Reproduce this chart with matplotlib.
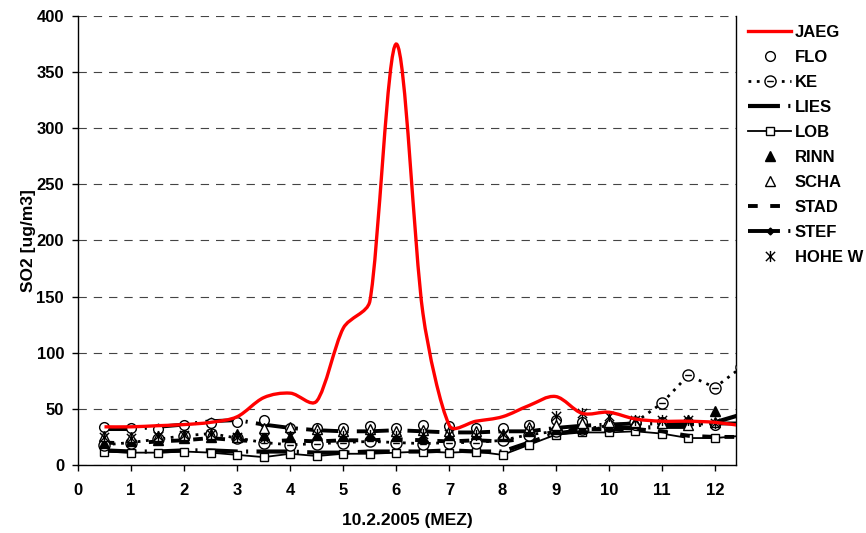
import numpy as np
import matplotlib
matplotlib.use("Agg")
import matplotlib.pyplot as plt
from matplotlib.path import Path
from matplotlib.patches import PathPatch

plt.rcParams["font.family"] = ["Liberation Sans", "DejaVu Sans"]
plt.rcParams["font.weight"] = "bold"
plt.rcParams["lines.scale_dashes"] = False

# ── Data (half-hourly, 10.2.2005) ─────────────────────────────────────────────
hours = [0.5, 1, 1.5, 2, 2.5, 3, 3.5, 4, 4.5, 5, 5.5, 6, 6.5, 7, 7.5, 8, 8.5,
         9, 9.5, 10, 10.5, 11, 11.5, 12, 12.5]

jaeg = [34, 34, 35, 36, 38, 43, 60, 64, 57, 122, 146, 375, 135, 35, 39, 43,
        53, 61, 46, 47, 41, 39, 39, 38, 35]
flo  = [34, 33, 32, 36, 37, 38, 40, 33, 33, 33, 35, 33, 36, 35, 33, 33, 36,
        40, 38, 36, 36, 38, 38, 36, None]
ke   = [18, 20, 23, 26, 28, 24, 20, 18, 19, 20, 21, 20, 19, 20, 20, 22, 27,
        30, 32, 35, 38, 55, 80, 69, 87]
lies = [13, 12, 12, 13, 13, 12, 12, 12, 11, 11, 12, 12, 12, 13, 12, 12, 20,
        28, 31, 33, 33, 34, 34, 38, 45]
lob  = [12, 11, 11, 12, 11, 9, 7, 10, 8, 10, 10, 11, 12, 11, 12, 9, 18,
        27, 29, 29, 30, 28, 24, 24, 26]
rinn = [20, 21, 22, 24, 25, 28, 27, 25, 27, 26, 27, 26, 24, 27, 28, 26, 30,
        32, 33, 35, 37, 38, 40, 48, None]
scha = [26, 25, 26, 27, 28, 25, 33, 34, 32, 30, 32, 30, 31, 30, 30, 28, 34,
        36, 37, 38, 38, 37, 36, 38, None]
stad = [20, 19, 21, 22, 24, 22, 21, 22, 21, 22, 22, 23, 22, 21, 22, 21, 24,
        30, 32, 32, 32, 30, 26, 25, 25]
stef = [32, 32, 34, 36, 39, 40, 36, 33, 31, 30, 30, 31, 30, 29, 29, 30, 30,
        33, 35, 36, 37, 37, 37, 37, 37]
hohe = [25, 24, 26, 27, 28, 25, 24, 26, 28, 26, 27, 26, 28, 28, 27, 28, 30,
        44, 46, 44, 40, 40, 40, 37, None]

x_ticks = list(range(0, 13))
y_ticks = list(range(0, 401, 50))


def arr(vals):
    return np.array([np.nan if v is None else v for v in vals], dtype=float)


def smooth_path(ax, xs, ys):
    """Excel-like smoothed line, built as cubic Beziers in pixel space."""
    pts = ax.transData.transform(np.column_stack([xs, ys]))
    n = len(pts)
    verts = [pts[0]]
    codes = [Path.MOVETO]
    for i in range(n - 1):
        p0 = pts[i - 1] if i > 0 else pts[i]
        p1, p2 = pts[i], pts[i + 1]
        p3 = pts[i + 2] if i + 2 < n else pts[i + 1]
        seg = np.linalg.norm(p2 - p1) / 3
        t1, t2 = p2 - p0, p3 - p1
        l1 = min(np.linalg.norm(t1) / 6, seg)
        l2 = min(np.linalg.norm(t2) / 6, seg)
        c1 = p1 + t1 / np.linalg.norm(t1) * l1
        c2 = p2 - t2 / np.linalg.norm(t2) * l2
        verts += [c1, c2, p2]
        codes += [Path.CURVE4] * 3
    verts = ax.transData.inverted().transform(np.array(verts))
    return Path(verts, codes)


# asterisk-like marker (x with vertical bar)
star_marker = Path([[-1, -1], [1, 1], [-1, 1], [1, -1], [0, -1.2], [0, 1.2]],
                   [Path.MOVETO, Path.LINETO] * 3)
# circle with bar for KE
ke_marker = Path.make_compound_path(
    Path.unit_circle(), Path([[-0.6, 0], [0.6, 0]], [Path.MOVETO, Path.LINETO]))

fig = plt.figure(figsize=(8.66, 5.33), dpi=100)
ax = fig.add_axes([0.090, 0.1276, 0.760, 0.8424])
ax.set_xlim(0, 12.4)
ax.set_ylim(0, 400)

x = np.array(hours)

# JAEG smoothed red line
ax.add_patch(PathPatch(smooth_path(ax, x, arr(jaeg)), fill=False,
                       edgecolor="#ff0000", lw=2.4, zorder=5))
ax.plot([], [], color="#ff0000", lw=2.4, label="JAEG")

ms = 7
long_dash_dot = (0, (23, 6, 1.5, 6))
ax.plot(x, arr(flo), ls="none", marker="o", ms=ms, mfc="white", mec="black",
        mew=1, label="FLO", zorder=4)
ax.plot(x, arr(ke), color="black", ls=(0, (2, 4)), lw=2, marker=ke_marker,
        ms=ms + 1, mfc="white", mec="black", mew=1, label="KE", zorder=4)
ax.plot(x, arr(lies), color="black", ls=long_dash_dot, lw=3, label="LIES",
        zorder=3)
ax.plot(x, arr(lob), color="black", lw=1.3, marker="s", ms=6, mfc="white",
        mec="black", mew=1, label="LOB", zorder=3)
ax.plot(x, arr(rinn), ls="none", marker="^", ms=ms, mfc="black", mec="black",
        label="RINN", zorder=4)
ax.plot(x, arr(scha), ls="none", marker="^", ms=ms, mfc="white", mec="black",
        mew=1, label="SCHA", zorder=4)
ax.plot(x, arr(stad), color="black", ls=(0, (7, 9)), lw=2.8, label="STAD",
        zorder=3)
ax.plot(x, arr(stef), color="black", ls=long_dash_dot, lw=2.8, marker="D",
        ms=3.5, label="STEF", zorder=3)
ax.plot(x, arr(hohe), ls="none", marker=star_marker, ms=ms + 1, mec="black",
        mew=1, label="HOHE W", zorder=4)

ax.set_xticks(x_ticks)
ax.set_yticks(y_ticks)
ax.tick_params(labelsize=12, length=4, width=1, direction="out")
ax.tick_params(axis="x", pad=9)
ax.tick_params(axis="y", pad=6)
for lab in ax.get_xticklabels() + ax.get_yticklabels():
    lab.set_fontweight("bold")
ax.yaxis.grid(True, color="#444444", ls=(0, (6, 5)), lw=0.8)
ax.set_axisbelow(True)
ax.spines["top"].set_visible(False)
for s in ("left", "bottom", "right"):
    ax.spines[s].set_linewidth(1)

ax.set_xlabel("10.2.2005 (MEZ)", fontsize=12.5, fontweight="bold", labelpad=11)
ax.set_ylabel("SO2 [ug/m3]", fontsize=12.5, fontweight="bold", labelpad=0)

leg = fig.legend(loc="upper left", bbox_to_anchor=(0.856, 0.965), frameon=False,
                 fontsize=12, handlelength=2.6, handletextpad=0.2,
                 labelspacing=0.60, numpoints=1, borderaxespad=0)
for t in leg.get_texts():
    t.set_fontweight("bold")

fig.savefig("out.png", dpi=100)
